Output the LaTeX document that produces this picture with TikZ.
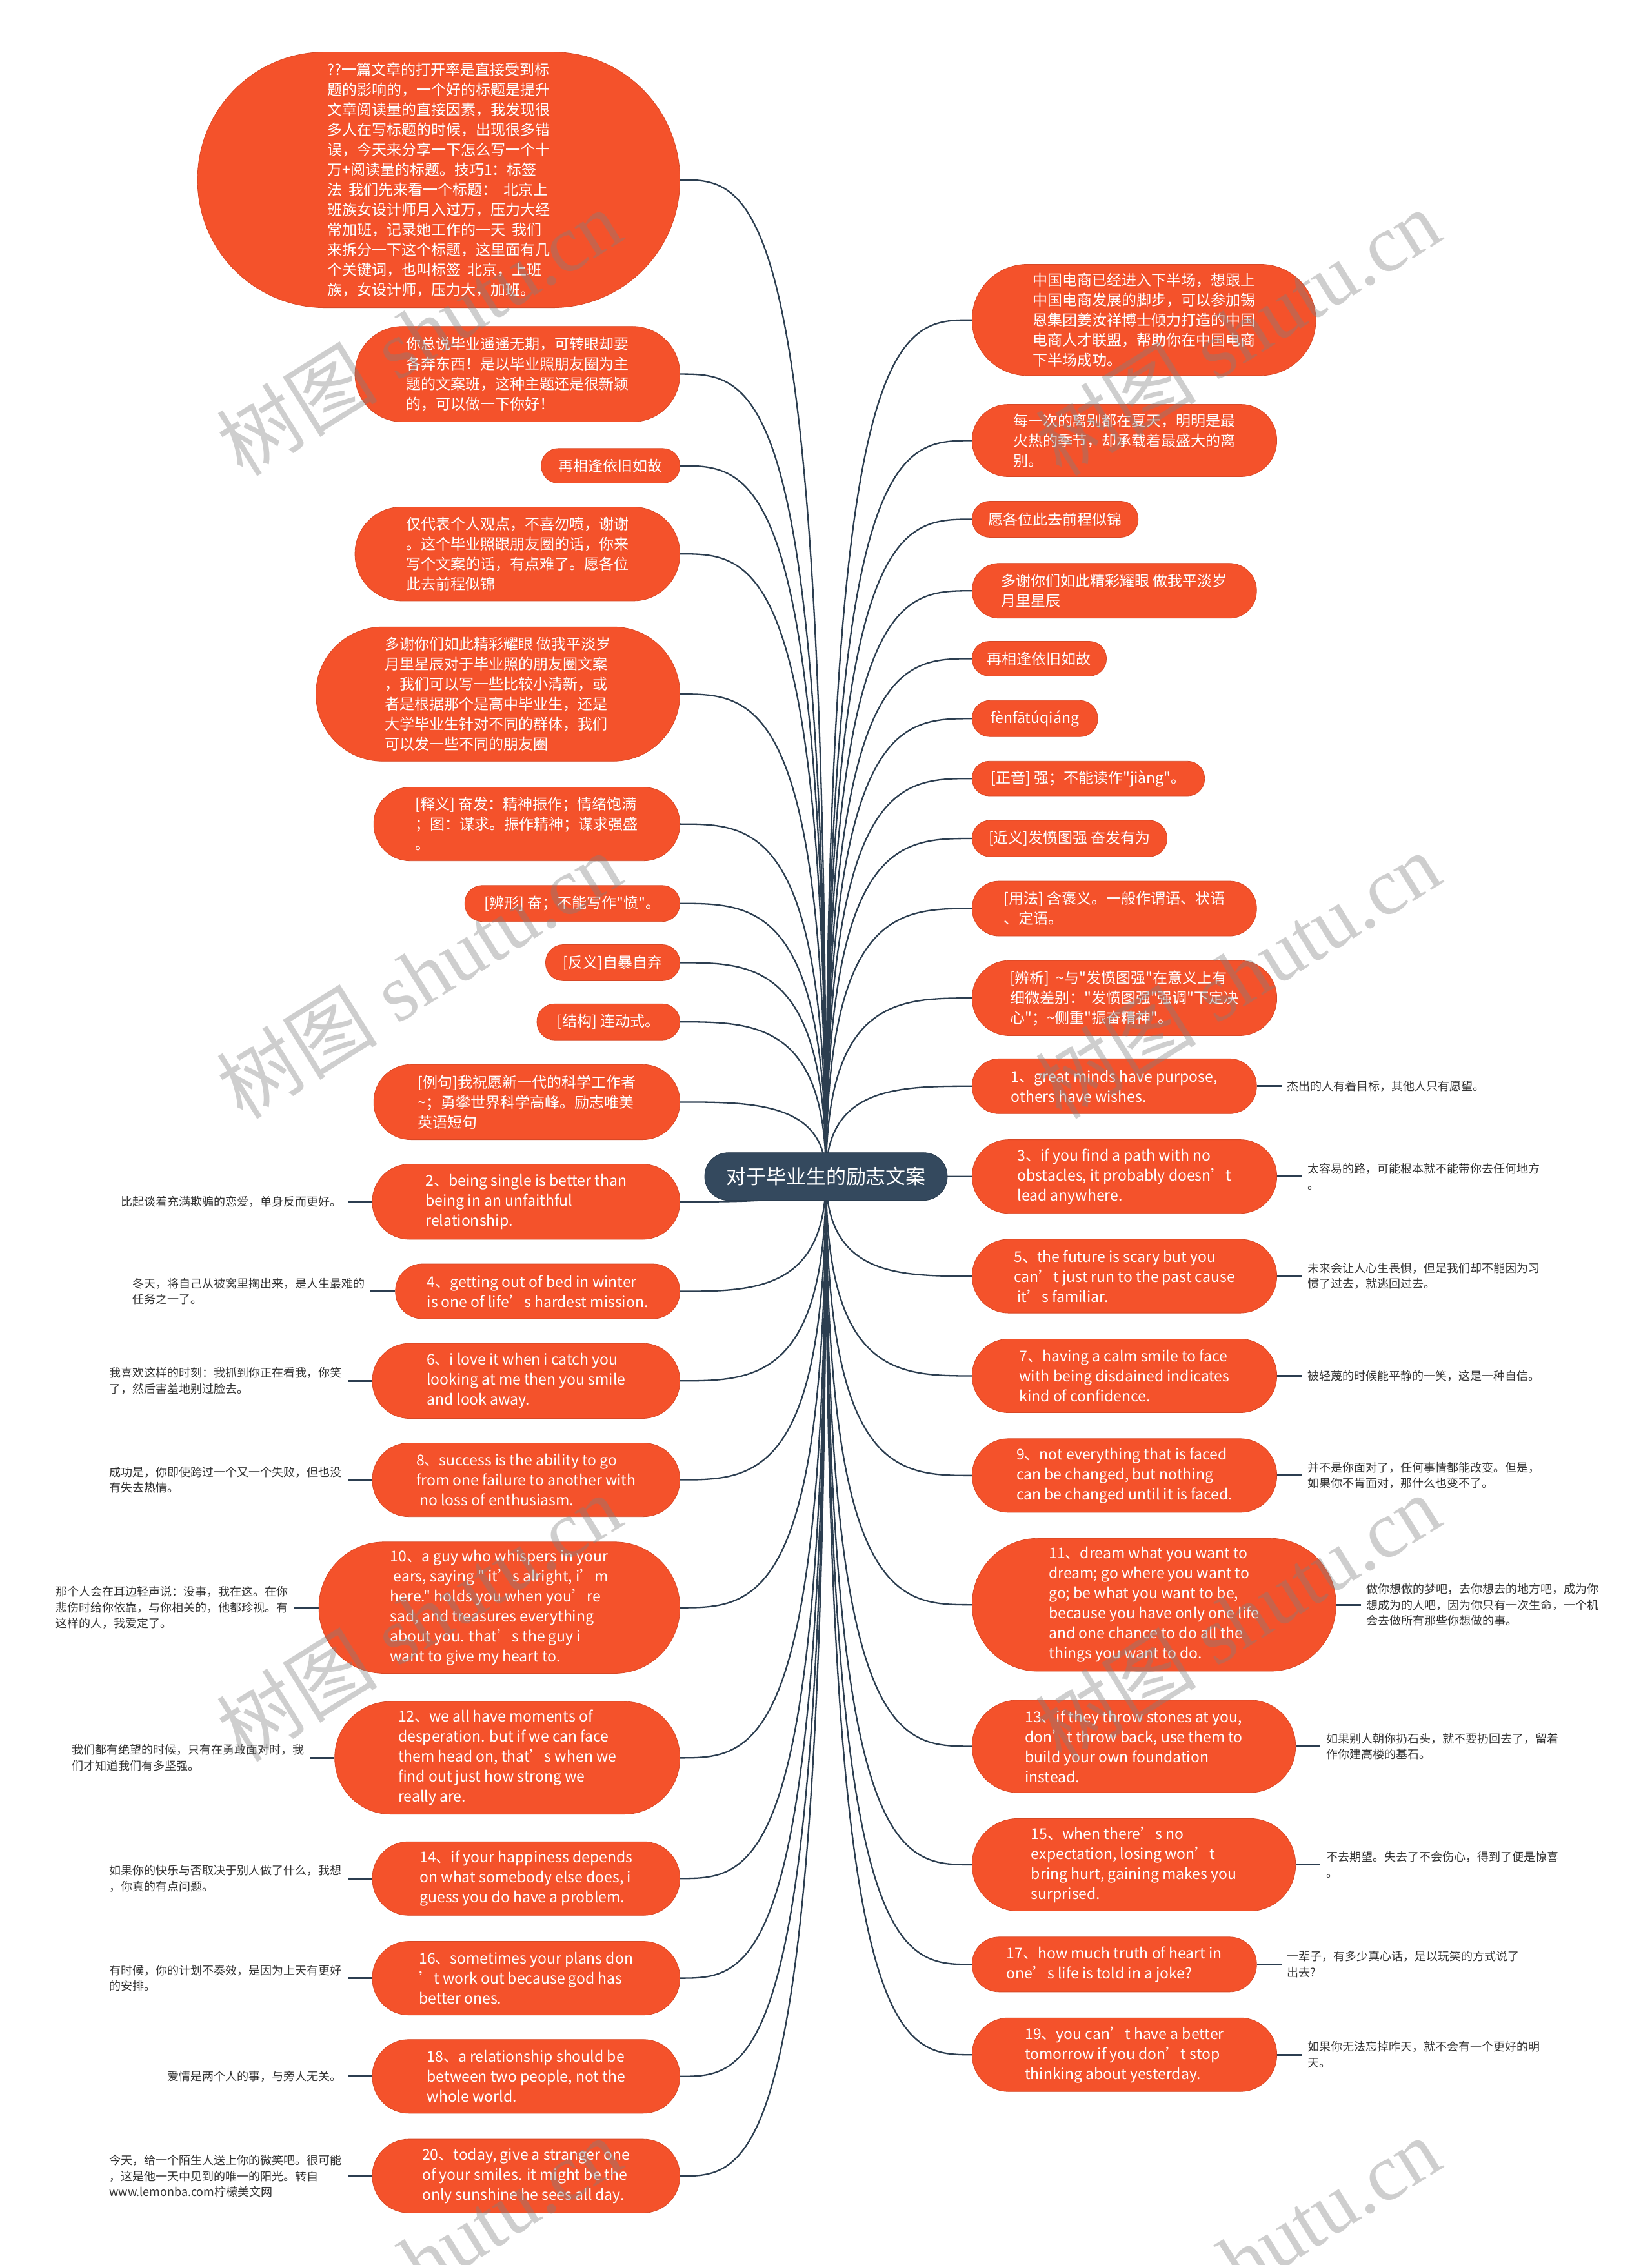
\documentclass[tikz,border=0pt]{standalone}
\usepackage{fontspec}
\setmainfont{Noto Sans CJK SC}
\newfontfamily\cjkfont{Noto Sans CJK SC}
\newfontfamily\wmserif{Liberation Serif}
\usetikzlibrary{calc}
\pgfdeclarelayer{paper}
\pgfdeclarelayer{wires}
\pgfdeclarelayer{marks}
\pgfsetlayers{paper,wires,main,marks}
\definecolor{nodeorange}{HTML}{F4522B}
\definecolor{rootblue}{HTML}{34495E}
\definecolor{linecol}{HTML}{2C3E50}
\definecolor{leaftext}{HTML}{333333}
\newcommand\skf{2.23776}
\tikzset{
  pill/.style 2 args={rectangle, fill=nodeorange, draw=nodeorange!88!black, line width=0.8pt,
    text=white, minimum width=#1*\skf*1pt, minimum height=#2*\skf*1pt,
    rounded corners=#2*\skf*0.5pt-0.6pt, inner sep=0pt, align=left,
    font=\cjkfont\fontsize{23pt}{31pt}\selectfont},
  rootnode/.style={rectangle, fill=rootblue, draw=rootblue!85!black, line width=0.8pt, text=white,
    minimum width=168*\skf*1pt, minimum height=33*\skf*1pt, rounded corners=33*\skf*0.5pt-0.6pt,
    inner sep=0pt, font=\cjkfont\fontsize{31pt}{31pt}\selectfont},
  leaf/.style={text=leaftext, align=left, inner xsep=9pt, inner ysep=2pt,
    font=\cjkfont\fontsize{18pt}{24.6pt}\selectfont},
  connector/.style={draw=linecol, line width=2.3pt},
  leafline/.style={draw=linecol, line width=3pt},
  watermark/.style={text=black!50, text opacity=0.38, rotate=32, inner sep=0pt,
    font=\cjkfont\fontsize{125pt}{125pt}\selectfont},
}
\begin{document}
\begin{tikzpicture}[x=2.23776pt, y=-2.23776pt]
\useasboundingbox (0,0) rectangle (1144,1568.1);
\begin{pgfonlayer}{paper}
\fill[white] (0,0) rectangle (1144,1568.1);
\end{pgfonlayer}

% root
\node[rootnode] (root) at (572,814.5) {对于毕业生的励志文案};

% left branch
\node[pill={334}{177}, anchor=east] (L1) at (471,124.5) {??一篇文章的打开率是直接受到标\\题的影响的，一个好的标题是提升\\文章阅读量的直接因素，我发现很\\多人在写标题的时候，出现很多错\\误，今天来分享一下怎么写一个十\\万+阅读量的标题。技巧1：标签\\法\ \ 我们先来看一个标题：\ \ 北京上\\班族女设计师月入过万，压力大经\\常加班，记录她工作的一天\ \ 我们\\来拆分一下这个标题，这里面有几\\个关键词，也叫标签\ \ 北京，上班\\族，女设计师，压力大，加班。};
\node[pill={225}{66}, anchor=east] (L2) at (471,259) {你总说毕业遥遥无期，可转眼却要\\各奔东西！是以毕业照朋友圈为主\\题的文案班，这种主题还是很新颖\\的，可以做一下你好！};
\node[pill={96}{24}, anchor=east] (L3) at (471,322.5) {再相逢依旧如故};
\node[pill={225}{65}, anchor=east] (L4) at (471,383.5) {仅代表个人观点，不喜勿喷，谢谢\\。这个毕业照跟朋友圈的话，你来\\写个文案的话，有点难了。愿各位\\此去前程似锦};
\node[pill={252}{93}, anchor=east] (L5) at (471,480.5) {多谢你们如此精彩耀眼 做我平淡岁\\月里星辰对于毕业照的朋友圈文案\\，我们可以写一些比较小清新，或\\者是根据那个是高中毕业生，还是\\大学毕业生针对不同的群体，我们\\可以发一些不同的朋友圈};
\node[pill={212}{51}, anchor=east] (L6) at (471,570.5) {[释义] 奋发：精神振作；情绪饱满\\；图：谋求。振作精神；谋求强盛\\。};
\node[pill={149}{25}, anchor=east] (L7) at (471,625.5) {[辨形] 奋；不能写作"愤"。};
\node[pill={93}{25}, anchor=east] (L8) at (471,666.5) {[反义]自暴自弃};
\node[pill={99}{25}, anchor=east] (L9) at (471,707.5) {[结构] 连动式。};
\node[pill={212}{52}, anchor=east] (L10) at (471,763) {[例句]我祝愿新一代的科学工作者\\\textasciitilde；勇攀世界科学高峰。励志唯美\\英语短句};
\node[pill={213}{52}, anchor=east] (L11) at (471,832) {2、being single is better than\\being in an unfaithful\\relationship.};
\node[pill={197}{38}, anchor=east] (L12) at (471,894) {4、getting out of bed in winter\\is one of life’s hardest mission.};
\node[pill={213}{52}, anchor=east] (L13) at (471,956) {6、i love it when i catch you\\looking at me then you smile\\and look away.};
\node[pill={213}{51}, anchor=east] (L14) at (471,1024.5) {8、success is the ability to go\\from one failure to another with\\\ no loss of enthusiasm.};
\node[pill={250}{91}, anchor=east] (L15) at (471,1113) {10、a guy who whispers in your\\\ ears, saying " it’s alright, i’m\\here." holds you when you’re\\sad, and treasures everything\\about you. that’s the guy i\\want to give my heart to.};
\node[pill={239}{78}, anchor=east] (L16) at (471,1217) {12、we all have moments of\\desperation. but if we can face\\them head on, that’s when we\\find out just how strong we\\really are.};
\node[pill={213}{51}, anchor=east] (L17) at (471,1300.5) {14、if your happiness depends\\on what somebody else does, i\\guess you do have a problem.};
\node[pill={213}{51}, anchor=east] (L18) at (471,1369.5) {16、sometimes your plans don\\’t work out because god has\\better ones.};
\node[pill={213}{51}, anchor=east] (L19) at (471,1437.5) {18、a relationship should be\\between two people, not the\\whole world.};
\node[pill={213}{51}, anchor=east] (L20) at (471,1506.5) {20、today, give a stranger one\\of your smiles. it might be the\\only sunshine he sees all day.};

% right branch
\node[pill={238}{77}, anchor=west] (R1) at (673,221.5) {中国电商已经进入下半场，想跟上\\中国电商发展的脚步，可以参加锡\\恩集团姜汝祥博士倾力打造的中国\\电商人才联盟，帮助你在中国电商\\下半场成功。};
\node[pill={211}{50}, anchor=west] (R2) at (673,305) {每一次的离别都在夏天，明明是最\\火热的季节，却承载着最盛大的离\\别。};
\node[pill={115}{25}, anchor=west] (R3) at (673,359.5) {愿各位此去前程似锦};
\node[pill={197}{38}, anchor=west] (R4) at (673,409) {多谢你们如此精彩耀眼 做我平淡岁\\月里星辰};
\node[pill={93}{24}, anchor=west] (R5) at (673,456) {再相逢依旧如故};
\node[pill={87}{25}, anchor=west] (R6) at (673,497.5) {fènfātúqiáng};
\node[pill={161}{24}, anchor=west] (R7) at (673,539) {[正音] 强；不能读作"jiàng"。};
\node[pill={135}{25}, anchor=west] (R8) at (673,580.5) {[近义]发愤图强 奋发有为};
\node[pill={197}{38}, anchor=west] (R9) at (673,629) {[用法] 含褒义。一般作谓语、状语\\、定语。};
\node[pill={211}{52}, anchor=west] (R10) at (673,691) {[辨析]\ \ \textasciitilde 与"发愤图强"在意义上有\\细微差别："发愤图强"强调"下定决\\心"；\textasciitilde 侧重"振奋精神"。};
\node[pill={197}{38}, anchor=west] (R11) at (673,752) {1、great minds have purpose,\\others have wishes.};
\node[pill={211}{51}, anchor=west] (R12) at (673,814.5) {3、if you find a path with no\\obstacles, it probably doesn’t\\lead anywhere.};
\node[pill={211}{51}, anchor=west] (R13) at (673,883.5) {5、the future is scary but you\\can’t just run to the past cause\\\ it’s familiar.};
\node[pill={211}{51}, anchor=west] (R14) at (673,952.5) {7、having a calm smile to face\\with being disdained indicates\\kind of confidence.};
\node[pill={211}{51}, anchor=west] (R15) at (673,1021.5) {9、not everything that is faced\\can be changed, but nothing\\can be changed until it is faced.};
\node[pill={252}{92}, anchor=west] (R16) at (673,1111) {11、dream what you want to\\dream; go where you want to\\go; be what you want to be,\\because you have only one life\\and one chance to do all the\\things you want to do.};
\node[pill={224}{64}, anchor=west] (R17) at (673,1209) {13、if they throw stones at you,\\don’t throw back, use them to\\build your own foundation\\instead.};
\node[pill={224}{64}, anchor=west] (R18) at (673,1291) {15、when there’s no\\expectation, losing won’t\\bring hurt, gaining makes you\\surprised.};
\node[pill={197}{38}, anchor=west] (R19) at (673,1360) {17、how much truth of heart in\\one’s life is told in a joke?};
\node[pill={211}{51}, anchor=west] (R20) at (673,1422.5) {19、you can’t have a better\\tomorrow if you don’t stop\\thinking about yesterday.};

% connectors from root
\begin{pgfonlayer}{wires}
\foreach \i in {1,...,20}{
  \draw[connector] (root.center) .. controls (root.center |- L\i.east) and ($(root.center |- L\i.east)!0.5!(L\i.east)$) .. (L\i.east);
  \draw[connector] (root.center) .. controls (root.center |- R\i.west) and ($(root.center |- R\i.west)!0.5!(R\i.west)$) .. (R\i.west);
}
\end{pgfonlayer}

% left leaves
\node[leaf, anchor=east] (l11) at ([xshift=-17*\skf*1pt]L11.west) {比起谈着充满欺骗的恋爱，单身反而更好。};
\node[leaf, anchor=east] (l12) at ([xshift=-17*\skf*1pt]L12.west) {冬天，将自己从被窝里掏出来，是人生最难的\\任务之一了。};
\node[leaf, anchor=east] (l13) at ([xshift=-17*\skf*1pt]L13.west) {我喜欢这样的时刻：我抓到你正在看我，你笑\\了，然后害羞地别过脸去。};
\node[leaf, anchor=east] (l14) at ([xshift=-17*\skf*1pt]L14.west) {成功是，你即使跨过一个又一个失败，但也没\\有失去热情。};
\node[leaf, anchor=east] (l15) at ([xshift=-17*\skf*1pt]L15.west) {那个人会在耳边轻声说：没事，我在这。在你\\悲伤时给你依靠，与你相关的，他都珍视。有\\这样的人，我爱定了。};
\node[leaf, anchor=east] (l16) at ([xshift=-17*\skf*1pt]L16.west) {我们都有绝望的时候，只有在勇敢面对时，我\\们才知道我们有多坚强。};
\node[leaf, anchor=east] (l17) at ([xshift=-17*\skf*1pt]L17.west) {如果你的快乐与否取决于别人做了什么，我想\\，你真的有点问题。};
\node[leaf, anchor=east] (l18) at ([xshift=-17*\skf*1pt]L18.west) {有时候，你的计划不奏效，是因为上天有更好\\的安排。};
\node[leaf, anchor=east] (l19) at ([xshift=-17*\skf*1pt]L19.west) {爱情是两个人的事，与旁人无关。};
\node[leaf, anchor=east] (l20) at ([xshift=-17*\skf*1pt]L20.west) {今天，给一个陌生人送上你的微笑吧。很可能\\，这是他一天中见到的唯一的阳光。转自\\www.lemonba.com柠檬美文网};

% right leaves
\node[leaf, anchor=west] (r11) at ([xshift=17*\skf*1pt]R11.east) {杰出的人有着目标，其他人只有愿望。};
\node[leaf, anchor=west] (r12) at ([xshift=17*\skf*1pt]R12.east) {太容易的路，可能根本就不能带你去任何地方\\。};
\node[leaf, anchor=west] (r13) at ([xshift=17*\skf*1pt]R13.east) {未来会让人心生畏惧，但是我们却不能因为习\\惯了过去，就逃回过去。};
\node[leaf, anchor=west] (r14) at ([xshift=17*\skf*1pt]R14.east) {被轻蔑的时候能平静的一笑，这是一种自信。};
\node[leaf, anchor=west] (r15) at ([xshift=17*\skf*1pt]R15.east) {并不是你面对了，任何事情都能改变。但是，\\如果你不肯面对，那什么也变不了。};
\node[leaf, anchor=west] (r16) at ([xshift=17*\skf*1pt]R16.east) {做你想做的梦吧，去你想去的地方吧，成为你\\想成为的人吧，因为你只有一次生命，一个机\\会去做所有那些你想做的事。};
\node[leaf, anchor=west] (r17) at ([xshift=17*\skf*1pt]R17.east) {如果别人朝你扔石头，就不要扔回去了，留着\\作你建高楼的基石。};
\node[leaf, anchor=west] (r18) at ([xshift=17*\skf*1pt]R18.east) {不去期望。失去了不会伤心，得到了便是惊喜\\。};
\node[leaf, anchor=west] (r19) at ([xshift=17*\skf*1pt]R19.east) {一辈子，有多少真心话，是以玩笑的方式说了\\出去?};
\node[leaf, anchor=west] (r20) at ([xshift=17*\skf*1pt]R20.east) {如果你无法忘掉昨天，就不会有一个更好的明\\天。};

\foreach \i in {11,...,20}{
  \draw[leafline] (L\i.west) -- (l\i.east);
  \draw[leafline] (R\i.east) -- (r\i.west);
}

% watermarks
\begin{pgfonlayer}{marks}
\foreach \wx in {290,857}{
  \foreach \wy in {230,675,1120,1565}{
    \node[watermark] (wm-\wx-\wy) at (\wx,\wy) {树图\hspace{0.25em}{\wmserif shutu.cn}};
  }
}
\end{pgfonlayer}
\end{tikzpicture}
\end{document}
